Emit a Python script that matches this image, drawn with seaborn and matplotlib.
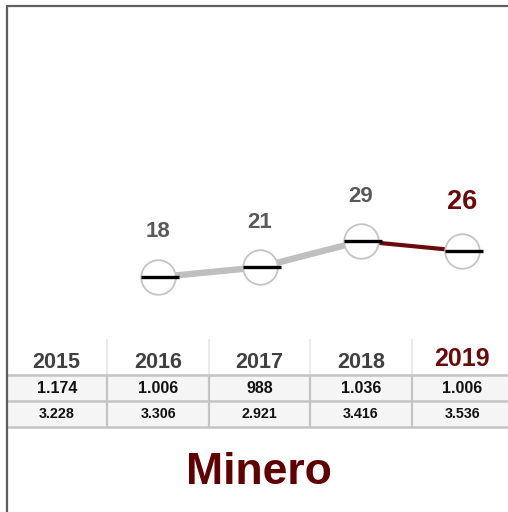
import numpy as np
import pandas as pd
import matplotlib
matplotlib.use("Agg")
import matplotlib.pyplot as plt
from matplotlib.lines import Line2D
import seaborn as sns

# datos
anios = ["2015", "2016", "2017", "2018", "2019"]
valores = [np.nan, 18, 21, 29, 26]
fila1 = ["1.174", "1.006", "988", "1.036", "1.006"]
fila2 = ["3.228", "3.306", "2.921", "3.416", "3.536"]
titulo = "Minero"

ROJO = "#6b0a0a"
GRIS_TXT = "#595959"

sns.set_theme(style="white")
plt.rcParams['font.family'] = ['Liberation Sans', 'DejaVu Sans']

W, H = 508, 512
fig = plt.figure(figsize=(W / 100, H / 100), dpi=100)

def caja(x0, y0, x1, y1):
    # pixeles (origen arriba-izquierda) -> fraccion de figura
    return [x0 / W, 1 - y1 / H, (x1 - x0) / W, (y1 - y0) / H]

x = np.arange(len(anios))
df = pd.DataFrame({"x": x, "anio": anios, "valor": valores})
XLIM = (-0.5, 4.45)

# ---- grafico de linea
ax = fig.add_axes(caja(6, 6, 508, 336))
ax.set_xlim(*XLIM)
ax.set_ylim(0, 100.9)
ax.axis("off")

gris = df.iloc[1:4]
rojo = df.iloc[3:5]
sns.lineplot(data=gris, x="x", y="valor", ax=ax, color="#bfbfbf", linewidth=4.6,
             solid_capstyle="round", zorder=2)
sns.lineplot(data=rojo, x="x", y="valor", ax=ax, color=ROJO, linewidth=3.0,
             solid_capstyle="round", zorder=2)
ok = df.dropna()
ax.scatter(ok["x"], ok["valor"], s=620, facecolor="white", edgecolor="#c4c4c4",
           linewidth=1.3, zorder=3)
ax.scatter(ok["x"] + 0.02, ok["valor"], marker="_", s=760, color="black",
           linewidth=2.4, zorder=4)
for xi, v in zip(ok["x"], ok["valor"]):
    ultimo = xi == x[-1]
    ax.annotate(f"{int(v)}", (xi, v), xytext=(0, 35 if ultimo else 32.5),
                textcoords="offset points", ha="center", va="center",
                fontsize=19.5 if ultimo else 16, fontweight="bold",
                color=ROJO if ultimo else GRIS_TXT)

# ---- tabla
at = fig.add_axes(caja(6, 336, 508, 430))
at.set_xlim(*XLIM)
at.set_ylim(430, 336)
at.axis("off")
at.axhspan(375, 427, color="#f5f5f5", zorder=0)
for b in [0.5, 1.5, 2.5, 3.5]:
    at.vlines(b, 339, 375, color="#e6e6e6", linewidth=1.2)
    at.vlines(b, 375, 427, color="#c4c4c4", linewidth=1.6)
for yy in [375, 401, 427]:
    at.hlines(yy, XLIM[0] - 0.02, XLIM[1], color="#c4c4c4", linewidth=1.8)
for i, a in enumerate(anios):
    ultimo = i == len(anios) - 1
    at.text(i, 362 if not ultimo else 359, a, ha="center", va="center",
            fontsize=18 if ultimo else 15.5, fontweight="bold",
            color=ROJO if ultimo else "#404040")
    at.text(i, 388.5, fila1[i], ha="center", va="center", fontsize=11.5,
            fontweight="bold", color="#111111")
    at.text(i, 414, fila2[i], ha="center", va="center", fontsize=10.3,
            fontweight="bold", color="#111111")

# ---- marco
fig.add_artist(Line2D([7 / W, 1], [1 - 6 / H, 1 - 6 / H], color="#5f5f5f", linewidth=1.6))
fig.add_artist(Line2D([7 / W, 7 / W], [0, 1 - 6 / H], color="#5f5f5f", linewidth=1.6))

fig.text(259 / W, 1 - 473 / H, titulo, ha="center", va="center", fontsize=32,
         fontweight="bold", color="#600000")

fig.savefig("out.png", dpi=100)
